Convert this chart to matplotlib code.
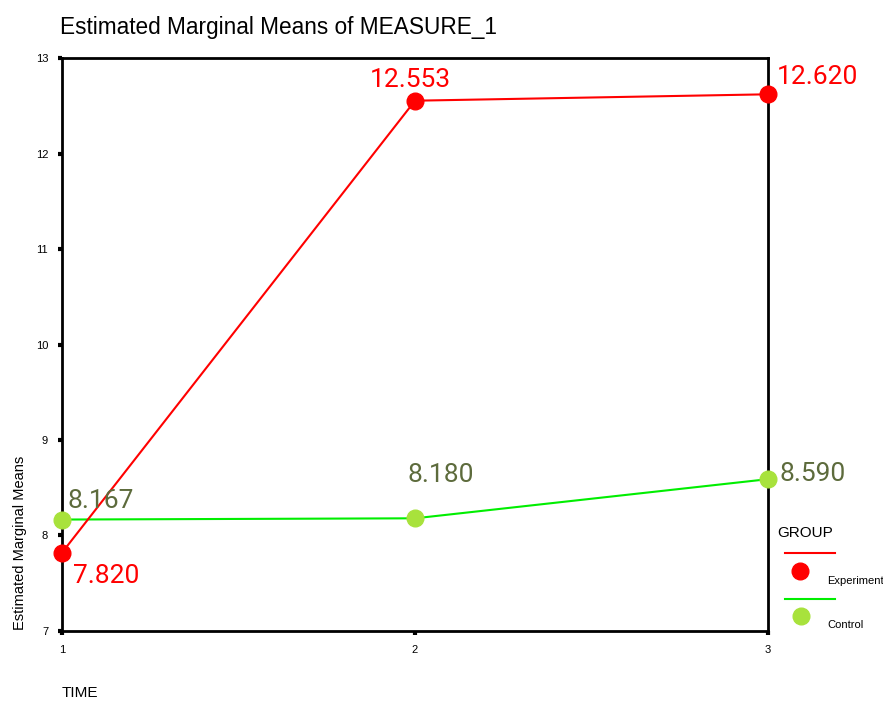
import matplotlib.pyplot as plt
from matplotlib.lines import Line2D

# data
time_points = [1, 2, 3]
experiment = [7.820, 12.553, 12.620]
control = [8.167, 8.180, 8.590]
y_ticks = [7, 8, 9, 10, 11, 12, 13]

# label offsets in pixels (style, not data)
exp_offsets = [(11, -30, "left"), (-5, 14, "center"), (9, 10, "left")]
ctl_offsets = [(6, 12, "left"), (-8, 36, "left"), (11, -2, "left")]

RED = "#ff0000"
GREEN_LINE = "#00ee00"
GREEN_DOT = "#a8e23c"
OLIVE = "#5d6b3c"

plt.rcParams["font.family"] = ["Liberation Sans", "DejaVu Sans"]
num_font = ["Roboto", "DejaVu Sans"]

fig = plt.figure(figsize=(8.83, 7.04), dpi=100)
ax = fig.add_axes([0.0702, 0.1037, 0.7996, 0.8139])

ax.plot(time_points, control, color=GREEN_LINE, lw=1.5, zorder=2)
ax.plot(time_points, control, "o", color=GREEN_DOT, ms=12, zorder=3, clip_on=False)
ax.plot(time_points, experiment, color=RED, lw=1.5, zorder=4)
ax.plot(time_points, experiment, "o", color=RED, ms=12, zorder=5, clip_on=False)

for x, y, (dx, dy, ha) in zip(time_points, experiment, exp_offsets):
    ax.annotate(f"{y:.3f}", (x, y), xytext=(dx, dy), textcoords="offset pixels",
                ha=ha, va="baseline", color=RED, fontsize=19, family=num_font,
                zorder=6)
for x, y, (dx, dy, ha) in zip(time_points, control, ctl_offsets):
    ax.annotate(f"{y:.3f}", (x, y), xytext=(dx, dy), textcoords="offset pixels",
                ha=ha, va="baseline", color=OLIVE, fontsize=19, family=num_font,
                zorder=6)

ax.set_xlim(1, 3)
ax.set_ylim(7, 13)
ax.set_xticks(time_points)
ax.set_yticks(y_ticks)
ax.tick_params(direction="out", length=3, width=3, labelsize=8, pad=7)
for s in ax.spines.values():
    s.set_linewidth(2)

fig.text(20 / 883, 1 - 630 / 704, "Estimated Marginal Means", fontsize=10.5,
         rotation=90, ha="center", va="bottom")
fig.text(0.070, 0.0099, "TIME", fontsize=11, ha="left", va="baseline")
fig.text(0.068, 1 - 34 / 704, "Estimated Marginal Means of MEASURE_1", fontsize=16.3,
         ha="left", va="baseline")

# legend drawn beside the plot
fig.text(777 / 883, 1 - 537 / 704, "GROUP", fontsize=11, ha="left", va="baseline")
fig.add_artist(Line2D([785 / 883, 835 / 883], [1 - 553 / 704] * 2, color=RED, lw=1.5))
fig.add_artist(Line2D([800 / 883], [1 - 571 / 704], marker="o", color=RED, ms=12))
fig.text(827 / 883, 1 - 584 / 704, "Experiment", fontsize=8, ha="left", va="baseline")
fig.add_artist(Line2D([785 / 883, 835 / 883], [1 - 599 / 704] * 2, color=GREEN_LINE, lw=1.5))
fig.add_artist(Line2D([801 / 883], [1 - 616 / 704], marker="o", color=GREEN_DOT, ms=12))
fig.text(827 / 883, 1 - 628 / 704, "Control", fontsize=8, ha="left", va="baseline")

fig.savefig("out.png", dpi=100)
